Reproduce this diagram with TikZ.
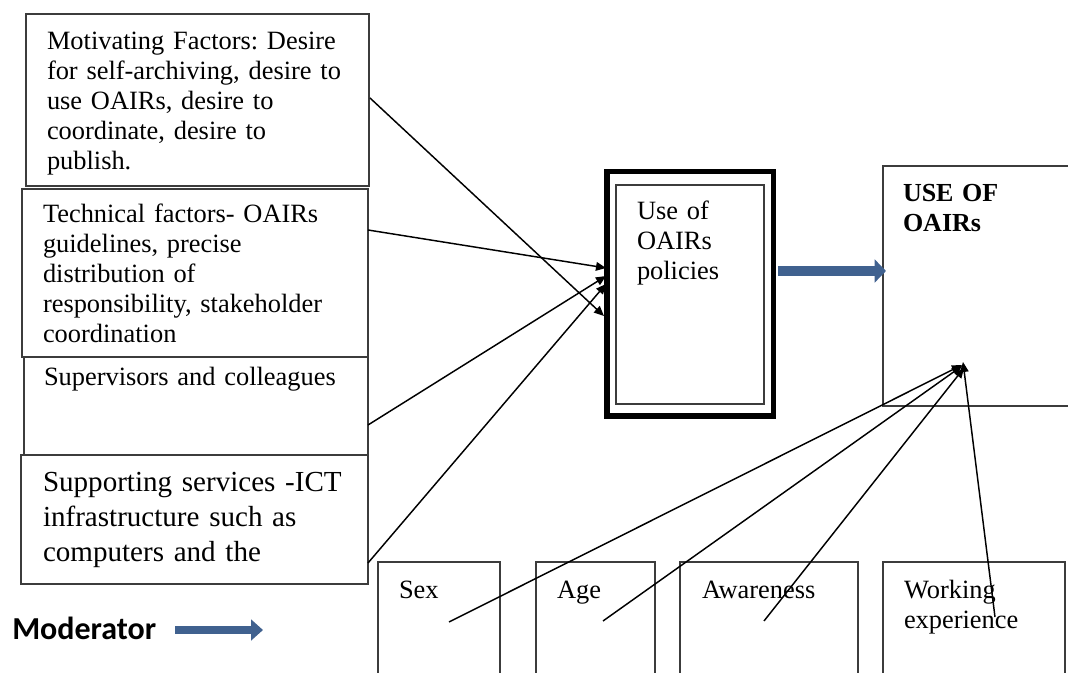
\documentclass[tikz,border=0pt]{standalone}
\usepackage{fontspec}
\setmainfont{Liberation Serif}
\newfontfamily\calfont{Carlito}
\usetikzlibrary{arrows.meta}
\definecolor{arrowblue}{RGB}{64,97,143}
\definecolor{boxgray}{RGB}{60,60,60}
\frenchspacing
\begin{document}
\begin{tikzpicture}[x=0.75pt,y=-0.75pt,
  box/.style args={#1/#2}{draw=boxgray,line width=1pt,minimum width=#1*0.75pt,minimum height=#2*0.75pt,inner sep=0pt,outer sep=0pt,anchor=north west},
  txt/.style={inner sep=0pt,outer sep=0pt,anchor=base west,align=left,text width=#1*0.75pt},
  txt/.default=330,
  sz/.style={font=\fontsize{19.8pt}{22.5pt}\selectfont},
  bigsz/.style={font=\fontsize{21.8pt}{26.25pt}\selectfont},
  link/.style={line width=1.1pt,-{Triangle[length=7.5pt,width=6.5pt]}},
  bluearrow/.style={draw=arrowblue,line width=#1*0.75pt,-{Triangle[length=8.5pt,width=17pt]}}
]
\path[use as bounding box,clip] (0,0) rectangle (1068,673);

% left boxes
\node[box=343/172] (b1) at (26,14) {};
\node[box=346/168] (b2) at (22,189) {};
\node[box=344/98] (b3) at (24,357) {};
\node[box=347/129] (b4) at (21,455) {};

\node[txt,sz] (t1) at (47,50) {Motivating Factors: Desire\\for self-archiving, desire to\\use OAIRs, desire to\\coordinate, desire to\\publish.};
\node[txt,sz] (t2) at (43,223) {Technical factors- OAIRs\\guidelines, precise\\distribution of\\responsibility, stakeholder\\coordination};
\node[txt,sz] (t3) at (44,386) {Supervisors and colleagues};
\node[txt,bigsz] (t4) at (43,492) {Supporting services -ICT\\infrastructure such as\\computers and the};

% policies box
\node[box=166.5/244.5,line width=5.5*0.75pt,draw=black] (polout) at (606.75,171.75) {};
\node[box=148/219] (polin) at (616,185) {};
\node[txt=120,sz] (tpol) at (637,220) {Use of\\OAIRs\\policies};

% use of OAIRs box
\node[box=200/240] (use) at (883,166) {};
\node[txt=150,sz,font=\fontsize{19.5pt}{22.5pt}\selectfont\bfseries] (tuse) at (903,202) {USE OF\\OAIRs};

% bottom boxes
\node[box=122/130] (sex) at (378,562) {};
\node[box=119/130] (age) at (536,562) {};
\node[box=178/130] (aware) at (680,562) {};
\node[box=182/130] (work) at (883,562) {};
\node[txt=100,sz] (tsex) at (399,598) {Sex};
\node[txt=100,sz] (tage) at (557,598) {Age};
\node[txt=150,sz] (taware) at (702,598) {Awareness};
\node[txt=160,sz] (twork) at (904,598) {Working\\experience};

% moderator
\node[inner sep=0pt,anchor=base west,font=\calfont\bfseries\fontsize{24pt}{28pt}\selectfont] (mod) at (12,639) {Moderator};

% connector coordinates
\coordinate (m1s) at (370,98);
\coordinate (m1e) at (604,316);
\coordinate (m2s) at (368,230);
\coordinate (m2e) at (606,268);
\coordinate (m3s) at (368,425);
\coordinate (m3e) at (606,276);
\coordinate (m4s) at (368,563);
\coordinate (m4e) at (606,284);
\coordinate (sexs) at (449,622);
\coordinate (ages) at (603,621);
\coordinate (awares) at (764,621);
\coordinate (works) at (995,617);
\coordinate (h1) at (962,365);
\coordinate (h2) at (962,366);
\coordinate (h3) at (964,368);
\coordinate (h4) at (963,362);
\coordinate (pa) at (778,271);
\coordinate (pb) at (886,271);
\coordinate (ma) at (175,630);
\coordinate (mb) at (263,630);

\draw[link] (m1s) -- (m1e);
\draw[link] (m2s) -- (m2e);
\draw[link] (m3s) -- (m3e);
\draw[link] (m4s) -- (m4e);
\draw[link] (sexs) -- (h1);
\draw[link] (ages) -- (h2);
\draw[link] (awares) -- (h3);
\draw[link] (works) -- (h4);

\draw[bluearrow=10] (pa) -- (pb);
\draw[bluearrow=8,-{Triangle[length=9pt,width=15.5pt]}] (ma) -- (mb);
\end{tikzpicture}
\end{document}
